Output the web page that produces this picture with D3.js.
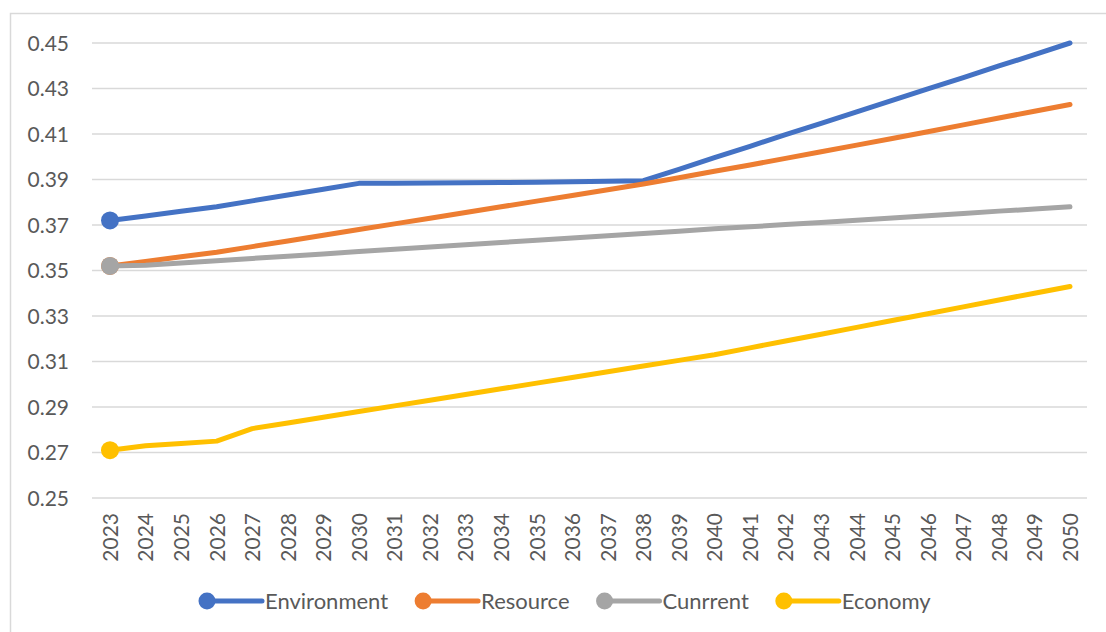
<!DOCTYPE html>
<html>
<head>
<meta charset="utf-8">
<script src="https://cdn.jsdelivr.net/npm/d3@7"></script>
<style>
  body { margin: 0; background: #fff; }
  svg text { font-family: Lato, "Open Sans", sans-serif; fill: #595959; }
</style>
</head>
<body>
<div id="chart"></div>
<script>
// years on the x axis
var years = d3.range(2023, 2051);

// series values
var environment = [0.372, 0.374, 0.376, 0.378, 0.3806, 0.3832, 0.3857, 0.3883, 0.3884, 0.3885, 0.3886, 0.3887,
    0.3888, 0.389, 0.3892, 0.3895, 0.3945, 0.3996, 0.4046, 0.4097, 0.4147, 0.4197, 0.4248, 0.4298, 0.4348,
    0.4399, 0.4449, 0.45];
var resource = [0.352, 0.354, 0.356, 0.358, 0.3605, 0.363, 0.3655, 0.368, 0.3705, 0.373, 0.3755, 0.378,
    0.3805, 0.383, 0.3855, 0.388, 0.3908, 0.3936, 0.3964, 0.3993, 0.4022, 0.4051, 0.408, 0.411, 0.414,
    0.417, 0.42, 0.423];
var current = [0.352, 0.3523, 0.3533, 0.3543, 0.3553, 0.3563, 0.3573, 0.3583, 0.3593, 0.3603, 0.3613, 0.3623,
    0.3633, 0.3643, 0.3653, 0.3663, 0.3673, 0.3683, 0.3692, 0.3702, 0.3711, 0.3721, 0.3731, 0.3741, 0.3751,
    0.3761, 0.377, 0.378];
var economy = [0.271, 0.273, 0.274, 0.275, 0.2805, 0.283, 0.2855, 0.288, 0.2905, 0.293, 0.2955, 0.298,
    0.3005, 0.303, 0.3055, 0.308, 0.3105, 0.313, 0.316, 0.319, 0.322, 0.325, 0.328, 0.331, 0.334,
    0.337, 0.34, 0.343];

var seriesNames = ['Environment', 'Resource', 'Cunrrent', 'Economy'];
var seriesColors = ['#4472C4', '#ED7D31', '#A5A5A5', '#FFC000'];
var yTicks = [0.25, 0.27, 0.29, 0.31, 0.33, 0.35, 0.37, 0.39, 0.41, 0.43, 0.45];

var series = [environment, resource, current, economy].map(function (vals, i) {
    return { name: seriesNames[i], color: seriesColors[i], values: vals };
});

var width = 1106, height = 632;
var plot = { left: 92, right: 1087, top: 43, bottom: 498 };

var svg = d3.select('#chart').append('svg')
    .attr('width', width)
    .attr('height', height);

// chart frame (runs off the right and bottom edges)
svg.append('rect')
    .attr('x', 10.5).attr('y', 13.5)
    .attr('width', 1200).attr('height', 700)
    .attr('fill', 'none')
    .attr('stroke', '#d9d9d9')
    .attr('stroke-width', 1.5);

// scales
var x = d3.scalePoint()
    .domain(years)
    .range([110, 1070]);
var y = d3.scaleLinear()
    .domain([0.25, 0.45])
    .range([plot.bottom, plot.top]);

// gridlines
svg.append('g')
    .selectAll('line')
    .data(yTicks)
    .enter().append('line')
    .attr('x1', plot.left).attr('x2', plot.right)
    .attr('y1', function (d) { return y(d); })
    .attr('y2', function (d) { return y(d); })
    .attr('stroke', '#d9d9d9')
    .attr('stroke-width', 1.5);

// y axis labels
var yAxis = svg.append('g')
    .attr('transform', 'translate(' + 69 + ',0)')
    .call(d3.axisLeft(y).tickValues(yTicks).tickFormat(d3.format('.2f')).tickSize(0).tickPadding(0));
yAxis.select('.domain').remove();
yAxis.selectAll('text')
    .attr('font-size', 21)
    .attr('dy', '0.35em')
    .style('font-family', 'Lato, sans-serif')
    .attr('fill', '#595959');

// x axis labels (rotated)
var xAxis = svg.append('g')
    .attr('transform', 'translate(0,' + plot.bottom + ')')
    .call(d3.axisBottom(x).tickSize(0).tickPadding(0));
xAxis.select('.domain').remove();
xAxis.selectAll('text')
    .attr('font-size', 21)
    .style('font-family', 'Lato, sans-serif')
    .attr('fill', '#595959')
    .attr('text-anchor', 'end')
    .attr('transform', 'translate(0,15) rotate(-90)')
    .attr('x', 0)
    .attr('y', 0)
    .attr('dy', '0.35em');

// lines
var line = d3.line()
    .x(function (d, i) { return x(years[i]); })
    .y(function (d) { return y(d); });

var groups = svg.append('g').selectAll('g')
    .data(series)
    .enter().append('g');

groups.append('path')
    .attr('d', function (d) { return line(d.values); })
    .attr('fill', 'none')
    .attr('stroke', function (d) { return d.color; })
    .attr('stroke-width', 5)
    .attr('stroke-linecap', 'round')
    .attr('stroke-linejoin', 'round');

// marker on the first point only
groups.append('circle')
    .attr('cx', x(years[0]))
    .attr('cy', function (d) { return y(d.values[0]); })
    .attr('r', 9)
    .attr('fill', function (d) { return d.color; });

// legend
var legend = svg.append('g').attr('transform', 'translate(0,601)');
var items = legend.selectAll('g')
    .data(series)
    .enter().append('g');
items.append('line')
    .attr('x1', 0).attr('x2', 55)
    .attr('stroke', function (d) { return d.color; })
    .attr('stroke-width', 5)
    .attr('stroke-linecap', 'round');
items.append('circle')
    .attr('r', 8.5)
    .attr('fill', function (d) { return d.color; });
items.append('text')
    .attr('x', 58)
    .attr('dy', '0.35em')
    .attr('font-size', 22)
    .text(function (d) { return d.name; });

var pos = 207;
items.each(function () {
    var g = d3.select(this);
    g.attr('transform', 'translate(' + pos + ',0)');
    pos += 58 + g.select('text').node().getComputedTextLength() + 35;
});
</script>
</body>
</html>
